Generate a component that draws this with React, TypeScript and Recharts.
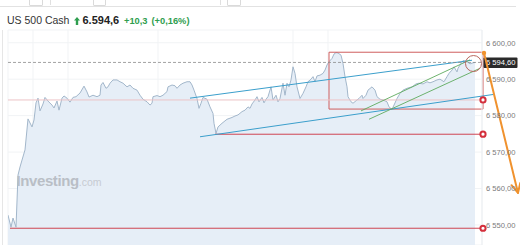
import React from 'react';
import {
  ComposedChart,
  Area,
  XAxis,
  YAxis,
  CartesianGrid,
  ReferenceLine,
  ReferenceArea,
  ReferenceDot,
} from 'recharts';

// Session minutes and US 500 Cash quotes
const minutes = [
  0, 3, 5, 8, 10, 12, 14, 17, 20, 24,
  26, 28, 30, 32, 35, 37, 40, 44, 46, 49,
  51, 54, 56, 59, 62, 65, 68, 72, 76, 79,
  81, 85, 89, 92, 93, 95, 98, 100, 102, 105,
  109, 112, 115, 119, 122, 125, 129, 132, 135, 139,
  142, 144, 145, 149, 152, 155, 159, 160, 164, 167,
  169, 172, 175, 179, 182, 184, 186, 189, 191, 193,
  195, 199, 202, 205, 206, 208, 210, 214, 219, 224,
  227, 230, 234, 237, 240, 242, 244, 247, 249, 251,
  254, 256, 258, 260, 263, 265, 268, 270, 272, 275,
  277, 279, 281, 283, 285, 287, 289, 292, 295, 298,
  300, 303, 305, 307, 309, 312, 315, 317, 319, 321,
  324, 326, 328, 330, 333, 335, 337, 339, 340, 343,
  345, 349, 351, 354, 355, 358, 360, 364, 367, 369,
  372, 375, 379, 381, 384, 386, 389, 392, 395, 399,
  404, 408, 411, 415, 419, 422, 425, 429, 432, 436,
  439, 441, 444, 446, 449, 450, 453, 455, 459, 462,
  465, 467,
];

const quotes = [
  6552.7, 6549.4, 6551.9, 6549.4, 6563.7, 6565.9, 6567.8, 6570.6, 6579.1, 6576.9,
  6578.8, 6583.5, 6584.8, 6581.3, 6583.2, 6585.0, 6584.0, 6582.9, 6582.1, 6584.0,
  6581.5, 6584.8, 6585.4, 6584.8, 6583.7, 6585.0, 6585.2, 6586.2, 6588.1, 6586.5,
  6585.1, 6585.6, 6585.2, 6585.6, 6588.4, 6589.1, 6587.5, 6587.9, 6588.9, 6589.8,
  6589.8, 6589.3, 6588.9, 6587.9, 6588.4, 6587.5, 6587.0, 6585.6, 6584.5, 6583.8,
  6582.9, 6583.4, 6585.2, 6585.5, 6585.2, 6585.6, 6586.6, 6587.9, 6588.4, 6588.2,
  6587.5, 6588.4, 6588.9, 6589.3, 6589.3, 6588.4, 6587.0, 6584.7, 6582.0, 6583.4,
  6585.0, 6584.5, 6582.4, 6580.6, 6577.9, 6575.1, 6576.9, 6577.9, 6579.0, 6579.5,
  6579.9, 6580.2, 6581.1, 6581.5, 6582.4, 6582.0, 6583.2, 6584.3, 6585.2, 6583.8,
  6585.0, 6583.5, 6584.5, 6585.2, 6587.9, 6584.3, 6585.6, 6583.8, 6584.7, 6588.9,
  6585.6, 6588.9, 6587.9, 6589.8, 6593.4, 6591.6, 6587.9, 6584.7, 6586.1, 6587.9,
  6589.3, 6590.0, 6590.7, 6589.3, 6590.9, 6591.1, 6591.6, 6592.5, 6593.9, 6594.8,
  6595.7, 6596.9, 6597.3, 6597.2, 6596.6, 6594.3, 6590.7, 6587.9, 6585.2, 6583.8,
  6583.4, 6584.3, 6584.7, 6585.6, 6584.7, 6585.6, 6587.0, 6587.9, 6587.0, 6585.2,
  6584.5, 6584.3, 6583.8, 6582.4, 6581.7, 6582.9, 6584.7, 6586.1, 6587.0, 6587.5,
  6587.9, 6588.7, 6588.9, 6588.7, 6589.3, 6589.0, 6589.3, 6589.8, 6590.0, 6589.3,
  6590.7, 6591.6, 6592.5, 6593.4, 6592.0, 6593.0, 6594.3, 6595.1, 6594.8, 6594.2,
  6594.5, 6594.6,
];

const priceTicks = [6550, 6560, 6570, 6580, 6590, 6600];
const timeTicks = [25, 60, 150, 285, 320];

const lastPrice = 6594.6;
const prevClose = 6584.3;
const change = '+10,3';
const changePct = '(+0,16%)';

// Drawing objects placed on the chart (minute, price)
const channelLines = [
  { from: [182, 6584.8], to: [464, 6595.2] },
  { from: [192, 6574.2], to: [485, 6585.8] },
];
const trendLines = [
  { from: [353, 6581.3], to: [462, 6595.3] },
  { from: [361, 6579.0], to: [472, 6593.0] },
];
const supportLevels = [
  { start: 207, end: 475, value: 6574.9 },
  { start: 2, end: 475, value: 6549.1 },
];
const zone = { start: 321, end: 475, low: 6581.8, high: 6597.4 };
const highlight = { minute: 465.5, value: 6594.3 };
const projection = { from: [476, 6597.2], to: [510, 6558.8] };

const data = minutes.map((m, i) => ({ minute: m, price: quotes[i] }));

const fmtAxis = (v: number) => {
  const whole = Math.floor(v);
  const thousands = Math.floor(whole / 1000);
  const rest = String(whole % 1000).padStart(3, '0');
  const dec = Math.round((v - whole) * 100)
    .toString()
    .padStart(2, '0');
  return `${thousands} ${rest},${dec}`;
};

const FONT = '"Liberation Sans", Arial, Helvetica, sans-serif';

const PriceTick = (p: any) => (
  <text
    x={p.x}
    y={p.y + 2.8}
    fontSize={7.6}
    fill="#7a7a7a"
    fontFamily={FONT}
    textAnchor="start"
  >
    {fmtAxis(p.payload.value)}
  </text>
);

const LastPriceLine = (p: any) => {
  const { x1, y1, x2 } = p;
  const left = Math.min(x1, x2);
  const right = Math.max(x1, x2);
  return (
    <g>
      <line x1={left} y1={y1} x2={right} y2={y1} stroke="#8a8a8a" strokeWidth={0.8} strokeDasharray="3 2" />
      <rect x={right + 1.5} y={y1 - 5} width={34} height={10.5} fill="#2a2a2a" rx={1} />
      <text x={right + 4} y={y1 + 2.8} fontSize={7.6} fill="#ffffff" fontFamily={FONT}>
        {fmtAxis(lastPrice)}
      </text>
    </g>
  );
};

const ArrowShape = (p: any) => {
  const { x1, y1, x2, y2 } = p;
  const dx = x2 - x1;
  const dy = y2 - y1;
  const len = Math.hypot(dx, dy);
  const ux = dx / len;
  const uy = dy / len;
  const hl = 9;
  const hw = 4.5;
  const bx = x2 - ux * hl;
  const by = y2 - uy * hl;
  const pts = `${bx - uy * hw},${by + ux * hw} ${x2},${y2} ${bx + uy * hw},${by - ux * hw}`;
  return (
    <g>
      <line x1={x1} y1={y1} x2={x2} y2={y2} stroke="#f0922e" strokeWidth={2} strokeLinecap="round" />
      <polyline points={pts} fill="none" stroke="#f0922e" strokeWidth={2} strokeLinejoin="round" strokeLinecap="round" />
      <circle cx={x1} cy={y1} r={2.2} fill="#f0922e" />
    </g>
  );
};

const UpIcon = () => (
  <svg width={6} height={8} style={{ position: 'absolute', left: 73.5, top: 16.5 }}>
    <path d="M3 0 L6 3.4 L4.2 3.4 L4.2 8 L1.8 8 L1.8 3.4 L0 3.4 Z" fill="#2f9e4f" />
  </svg>
);

export default function App() {
  return (
    <div
      style={{
        position: 'absolute',
        left: 0,
        top: 0,
        width: 520,
        height: 245,
        overflow: 'hidden',
        background: '#ffffff',
        fontFamily: FONT,
      }}
    >
      {/* toolbar remnants */}
      <div style={{ position: 'absolute', left: 0, top: 6, width: 516, height: 1, background: '#e2e2e2' }} />
      <div style={{ position: 'absolute', left: 29, top: -4, width: 12, height: 8, border: '1px solid #dadada', borderRadius: 1 }} />
      <div style={{ position: 'absolute', left: 93, top: -4, width: 11, height: 8, border: '1px solid #dadada', borderRadius: 1 }} />
      <div style={{ position: 'absolute', left: 50, top: 0, width: 1, height: 5, background: '#e0e0e0' }} />
      <div style={{ position: 'absolute', left: 220, top: 0, width: 1, height: 5, background: '#e0e0e0' }} />
      <div style={{ position: 'absolute', left: 227, top: -4, width: 12, height: 8, border: '1px solid #dadada', borderRadius: 1 }} />

      {/* quote header */}
      <div style={{ position: 'absolute', left: 7, top: 13.5, fontSize: 10.5, color: '#333', lineHeight: '13px', whiteSpace: 'nowrap' }}>
        US 500 Cash
      </div>
      <UpIcon />
      <div style={{ position: 'absolute', left: 82.5, top: 13.5, fontSize: 11, fontWeight: 700, color: '#222', lineHeight: '13px', whiteSpace: 'nowrap' }}>
        6.594,6
      </div>
      <div style={{ position: 'absolute', left: 124, top: 14.5, fontSize: 9.3, fontWeight: 700, color: '#2f9e4f', lineHeight: '12px', whiteSpace: 'nowrap' }}>
        {change}
      </div>
      <div style={{ position: 'absolute', left: 151.5, top: 14.5, fontSize: 9.3, fontWeight: 700, color: '#2f9e4f', lineHeight: '12px', whiteSpace: 'nowrap' }}>
        {changePct}
      </div>

      {/* panel edge */}
      <div style={{ position: 'absolute', left: 1.5, top: 30, width: 1, height: 215, background: '#e6e6e6' }} />

      <div style={{ position: 'absolute', left: 0, top: 0 }}>
        <ComposedChart
          width={520}
          height={245}
          data={data}
          margin={{ top: 30, right: 0, bottom: 0, left: 8 }}
        >
          <CartesianGrid stroke="#f1f3f5" strokeWidth={1} />
          <XAxis
            dataKey="minute"
            type="number"
            domain={[0, 474]}
            ticks={timeTicks}
            allowDataOverflow
            hide
          />
          <YAxis
            orientation="right"
            domain={[6544.5, 6603.5]}
            ticks={priceTicks}
            allowDataOverflow
            width={38}
            axisLine={false}
            tickLine={false}
            tickSize={4}
            tickMargin={0}
            tick={<PriceTick />}
          />
          <Area
            type="linear"
            dataKey="price"
            stroke="#a3b7cb"
            strokeWidth={1}
            fill="#e6eef7"
            fillOpacity={1}
            dot={false}
            activeDot={false}
            isAnimationActive={false}
          />
          <ReferenceLine x={474} stroke="#eceff2" ifOverflow="visible" />
          <ReferenceLine y={prevClose} stroke="#ecc3c6" strokeWidth={1} ifOverflow="visible" />
          {supportLevels.map((s, i) => (
            <ReferenceLine
              key={`s${i}`}
              segment={[{ x: s.start, y: s.value }, { x: s.end, y: s.value }]}
              stroke="#cf4452"
              strokeWidth={1}
              ifOverflow="visible"
            />
          ))}
          <ReferenceArea
            x1={zone.start}
            x2={zone.end}
            y1={zone.low}
            y2={zone.high}
            fill="none"
            stroke="#cf5e5e"
            strokeWidth={1}
            ifOverflow="visible"
          />
          {channelLines.map((l, i) => (
            <ReferenceLine
              key={`c${i}`}
              segment={[{ x: l.from[0], y: l.from[1] }, { x: l.to[0], y: l.to[1] }]}
              stroke="#3b9fcc"
              strokeWidth={1}
              ifOverflow="visible"
            />
          ))}
          {trendLines.map((l, i) => (
            <ReferenceLine
              key={`g${i}`}
              segment={[{ x: l.from[0], y: l.from[1] }, { x: l.to[0], y: l.to[1] }]}
              stroke="#5eaa5e"
              strokeWidth={0.9}
              ifOverflow="visible"
            />
          ))}
          <ReferenceDot
            x={highlight.minute}
            y={highlight.value}
            r={8}
            fill="none"
            stroke="#b8675e"
            strokeWidth={1}
            ifOverflow="visible"
          />
          {[prevClose, supportLevels[0].value, supportLevels[1].value].map((v, i) => (
            <ReferenceDot
              key={`r${i}`}
              x={475}
              y={v}
              r={2.6}
              fill="#ffffff"
              stroke="#d42f3c"
              strokeWidth={2}
              ifOverflow="visible"
            />
          ))}
          <ReferenceLine y={lastPrice} shape={<LastPriceLine />} ifOverflow="visible" />
          <ReferenceLine
            segment={[
              { x: projection.from[0], y: projection.from[1] },
              { x: projection.to[0], y: projection.to[1] },
            ]}
            shape={<ArrowShape />}
            ifOverflow="visible"
          />
        </ComposedChart>
      </div>

      {/* watermark */}
      <div
        style={{
          position: 'absolute',
          left: 16.5,
          top: 172,
          whiteSpace: 'nowrap',
          color: '#b9bec6',
          pointerEvents: 'none',
        }}
      >
        <span style={{ fontSize: 15, fontWeight: 700, letterSpacing: -0.4 }}>Investing</span>
        <span style={{ fontSize: 10.5, color: '#c6cbd2' }}>.com</span>
      </div>
    </div>
  );
}
